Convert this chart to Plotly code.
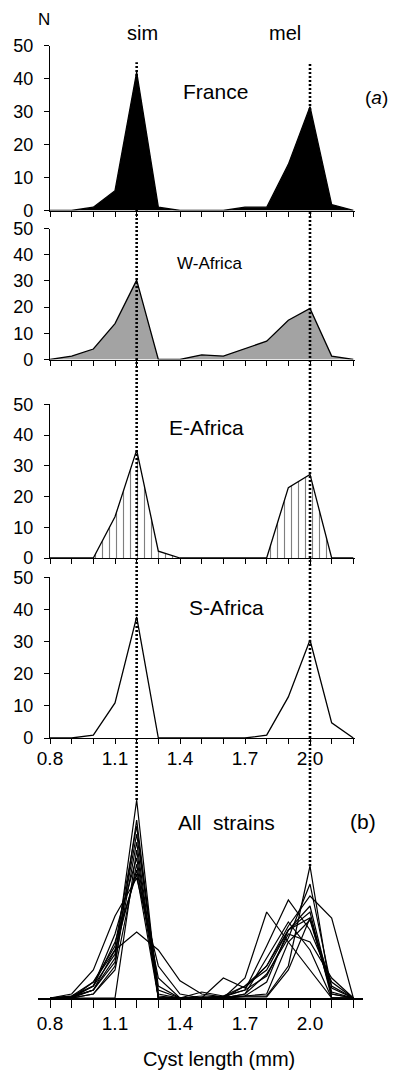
import plotly.graph_objects as go

# ---------------- data ----------------
cyst_length = [0.8, 0.9, 1.0, 1.1, 1.2, 1.3, 1.4, 1.5, 1.6, 1.7, 1.8, 1.9, 2.0, 2.1, 2.2]
tick_labels = ['0.8', '', '', '1.1', '', '', '1.4', '', '', '1.7', '', '', '2.0', '', '']

france   = [0, 0, 1, 6, 42, 1, 0, 0, 0, 1, 1, 14, 31.5, 1.8, 0]
w_africa = [0, 1.3, 4, 13.7, 30.3, 0, 0, 1.8, 1.3, 4.2, 7, 15, 19.5, 1.3, 0]
e_africa = [0, 0, 0, 13.4, 35.1, 2.2, 0, 0, 0, 0, 0, 22.9, 27.2, 0, 0]
s_africa = [0, 0, 0.9, 10.9, 37.7, 0, 0, 0, 0, 0, 0.9, 12.8, 30.5, 4.7, 0]

all_strains = [
    [0, 0.3, 2, 10, 49.5, 0, 0, 0, 0, 0.5, 0.5, 8, 33, 0, 0],
    [0, 0, 1, 8, 44.5, 1, 0, 0, 0, 1, 6, 15, 28.5, 2.5, 0],
    [0, 0.5, 4, 13, 43, 0, 0, 0, 0.5, 3, 8, 18, 25.5, 20, 0],
    [0, 0, 3, 11, 41, 3, 0, 1.5, 0.5, 2, 13, 24.5, 17, 4, 0],
    [0, 0.3, 2, 9, 39, 0, 0, 0, 0, 0.5, 4, 17, 21.5, 0, 0],
    [0, 0, 0, 0, 37, 0, 0, 0, 0, 0.3, 0.3, 7, 20, 1, 0],
    [0, 0.5, 3, 16, 35, 2, 0, 0.5, 0.3, 0.5, 1, 14, 19.5, 1.5, 0],
    [0, 0, 1, 7, 33.5, 0.5, 0, 0, 0, 3, 7, 17, 23, 1, 0],
    [0, 0, 2, 12, 32, 5, 0, 0, 0, 5, 21.5, 14, 7, 0, 0],
    [0, 0.3, 3, 14, 31, 0, 0, 0, 0, 1, 10, 19, 12, 0, 0],
    [0, 0, 4, 12, 16.5, 12, 4.3, 1, 0.3, 2, 5.5, 16, 14, 5, 0],
    [0, 1, 7, 20.5, 30, 8, 1, 0, 5, 2.5, 8, 17, 20, 3, 0],
]

sim_peak = 1.2
mel_peak = 2.0
guide_top_n = 45

# ---------------- layout helpers ----------------
PAGE_OFF = 8          # default body margin of the html page
W, H = 396 - PAGE_OFF, 1072 - PAGE_OFF
ML, MR, MT, MB = 8, 18, 8, 22
IW, IH = W - ML - MR, H - MT - MB
FONT = "Liberation Sans, Arial, sans-serif"


def fx(pix):
    return (pix - PAGE_OFF - ML) / IW


def fy(pix):
    return 1 - (pix - PAGE_OFF - MT) / IH


# pixel positions (bottom = value 0, top = value 50)
panels_px = [(210.5, 45.7), (359.5, 228.5), (558, 404.3), (738, 577.3), (998, 798)]
domains = [[fy(b), fy(t)] for b, t in panels_px]
yrange = [0, 50]
PX_PER_UNIT = 216.67

fig = go.Figure()

line_kw = dict(color="black", width=1.3)
series = [france, w_africa, e_africa, s_africa]
for i, ys in enumerate(series):
    ax = "" if i == 0 else str(i + 1)
    kw = dict(x=cyst_length, y=ys, mode="lines", line=line_kw,
              xaxis="x" + ax, yaxis="y" + ax, hoverinfo="skip")
    if i == 0:
        kw.update(fill="tozeroy", fillcolor="black")
    elif i == 1:
        kw.update(fill="tozeroy", fillcolor="#a3a3a3")
    elif i == 2:
        kw.update(fill="tozeroy", fillcolor="white",
                  fillpattern=dict(shape="|", size=7, solidity=0.16,
                                   fgcolor="black", bgcolor="white"))
    fig.add_trace(go.Scatter(**kw))

for ys in all_strains:
    fig.add_trace(go.Scatter(x=cyst_length, y=ys, mode="lines",
                             line=dict(color="black", width=1.2),
                             xaxis="x5", yaxis="y5", hoverinfo="skip"))

x_dom = [fx(50), fx(355)]
x_rng = [0.8, 0.8 + (355 - 50) / PX_PER_UNIT]
x5_dom = [fx(38), fx(363)]
x5_rng = [0.8 - 12 / PX_PER_UNIT, 0.8 + (363 - 50) / PX_PER_UNIT]

layout = dict(width=W, height=H, margin=dict(l=ML, r=MR, t=MT, b=MB, autoexpand=False),
              paper_bgcolor="white", plot_bgcolor="white", showlegend=False,
              font=dict(family=FONT, color="black"))

for i in range(5):
    ax = "" if i == 0 else str(i + 1)
    xa = dict(domain=x_dom if i < 4 else x5_dom,
              range=x_rng if i < 4 else x5_rng,
              anchor="y" + ax, showgrid=False, zeroline=False,
              showline=True, linecolor="black", linewidth=1.3 if i < 4 else 2,
              ticks="outside", ticklen=5 if i < 4 else 8, tickwidth=1.2,
              tickcolor="black", tickmode="array", tickvals=cyst_length,
              ticktext=tick_labels, tickfont=dict(size=19, family=FONT),
              showticklabels=(i >= 3),
              ticklabelstandoff=-2 if i < 4 else -1)
    ya = dict(domain=domains[i], range=yrange, anchor="x" + ax,
              showgrid=False, zeroline=False, visible=(i < 4),
              showline=True, linecolor="black", linewidth=1.3,
              ticks="outside", ticklen=5, tickwidth=1.2, tickcolor="black",
              tickmode="array", tickvals=[0, 10, 20, 30, 40, 50],
              tickfont=dict(size=18, family=FONT), ticklabelstandoff=7)
    layout["xaxis" + ax] = xa
    layout["yaxis" + ax] = ya

fig.update_layout(**layout)


def paper_from_value(panel, v):
    d0, d1 = domains[panel]
    return d0 + (v - yrange[0]) / (yrange[1] - yrange[0]) * (d1 - d0)


top_y = paper_from_value(0, guide_top_n)
for peak in (sim_peak, mel_peak):
    idx = cyst_length.index(peak)
    bottom_v = max(s[idx] for s in all_strains)
    fig.add_shape(type="line", xref="x", yref="paper", x0=peak, x1=peak,
                  y0=paper_from_value(4, bottom_v), y1=top_y, layer="above",
                  line=dict(color="black", width=2.6, dash="2px,2px"))

texts = [
    ("N", 44, 20, 17),
    ("sim", 142, 33, 20),
    ("mel", 285, 33, 20),
    ("France", 215, 92, 21),
    ("(<i>a</i>)", 376, 97, 19),
    ("W-Africa", 209, 263, 17),
    ("E-Africa", 206, 427, 21),
    ("S-Africa", 226, 607, 21),
    ("All\u00a0\u00a0strains", 226, 822, 21),
    ("(b)", 363, 821, 21),
    ("Cyst length (mm)", 219, 1059, 20),
]
for t, x, y, s in texts:
    fig.add_annotation(text=t, x=fx(x), y=fy(y), xref="paper", yref="paper",
                       xanchor="center", yanchor="middle", showarrow=False,
                       font=dict(size=s, family=FONT, color="black"))

fig.write_html("out.html")
